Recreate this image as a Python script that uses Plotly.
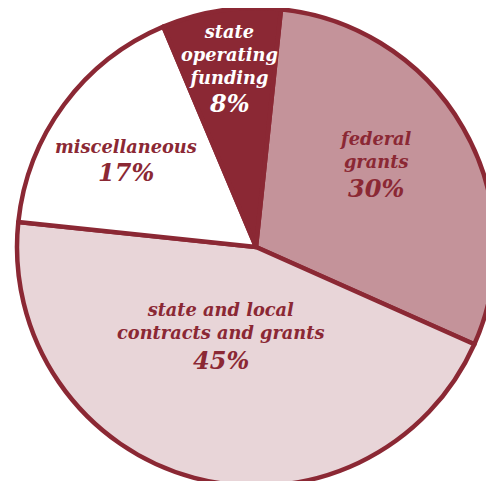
import plotly.graph_objects as go

# ---- data ----
categories = ["federal grants", "state and local contracts and grants",
              "miscellaneous", "state operating funding"]
label_lines = ["federal<br>grants", "state and local<br>contracts and grants",
               "miscellaneous", "state<br>operating<br>funding"]
values = [30, 45, 17, 8]

# ---- styles ----
slice_colors = ["#C4939A", "#E8D5D8", "#FFFFFF", "#8B2834"]
text_colors = ["#8B2834", "#8B2834", "#8B2834", "#FFFFFF"]
border_color = "#8B2834"
# label centres in screen pixels (layout positions): words block, percent
word_pos = [(375, 150), (221, 321), (126, 146), (229, 54)]
pct_pos = [(376, 188), (221, 360), (126, 172), (229, 103)]

W, H = 494, 481
OFF = 8  # page body margin offset

fig = go.Figure(go.Pie(
    labels=categories,
    values=values,
    sort=False,
    direction="clockwise",
    rotation=6,
    domain=dict(x=[9 / W, 487 / W], y=[1 - 478 / H, 1]),
    marker=dict(colors=slice_colors, line=dict(color=border_color, width=4.5)),
    textinfo="none",
    hoverinfo="label+percent",
    showlegend=False,
))

FONT = "DejaVu Serif"


def to_paper(px, py):
    return (px - OFF) / W, 1 - (py - OFF) / H


for lab, v, col, wp, pp in zip(label_lines, values, text_colors, word_pos, pct_pos):
    xw, yw = to_paper(*wp)
    fig.add_annotation(x=xw, y=yw, xref="paper", yref="paper",
                       text=f"<b><i>{lab}</i></b>",
                       showarrow=False, xanchor="center", yanchor="middle",
                       align="center", font=dict(family=FONT, size=17.8, color=col))
    xq, yq = to_paper(*pp)
    fig.add_annotation(x=xq, y=yq, xref="paper", yref="paper",
                       text=f"<b><i>{v}%</i></b>",
                       showarrow=False, xanchor="center", yanchor="middle",
                       align="center", font=dict(family=FONT, size=24, color=col))

fig.update_layout(
    width=W, height=H,
    margin=dict(l=0, r=0, t=0, b=0),
    paper_bgcolor="white", plot_bgcolor="white",
)

fig.write_html("out.html")
